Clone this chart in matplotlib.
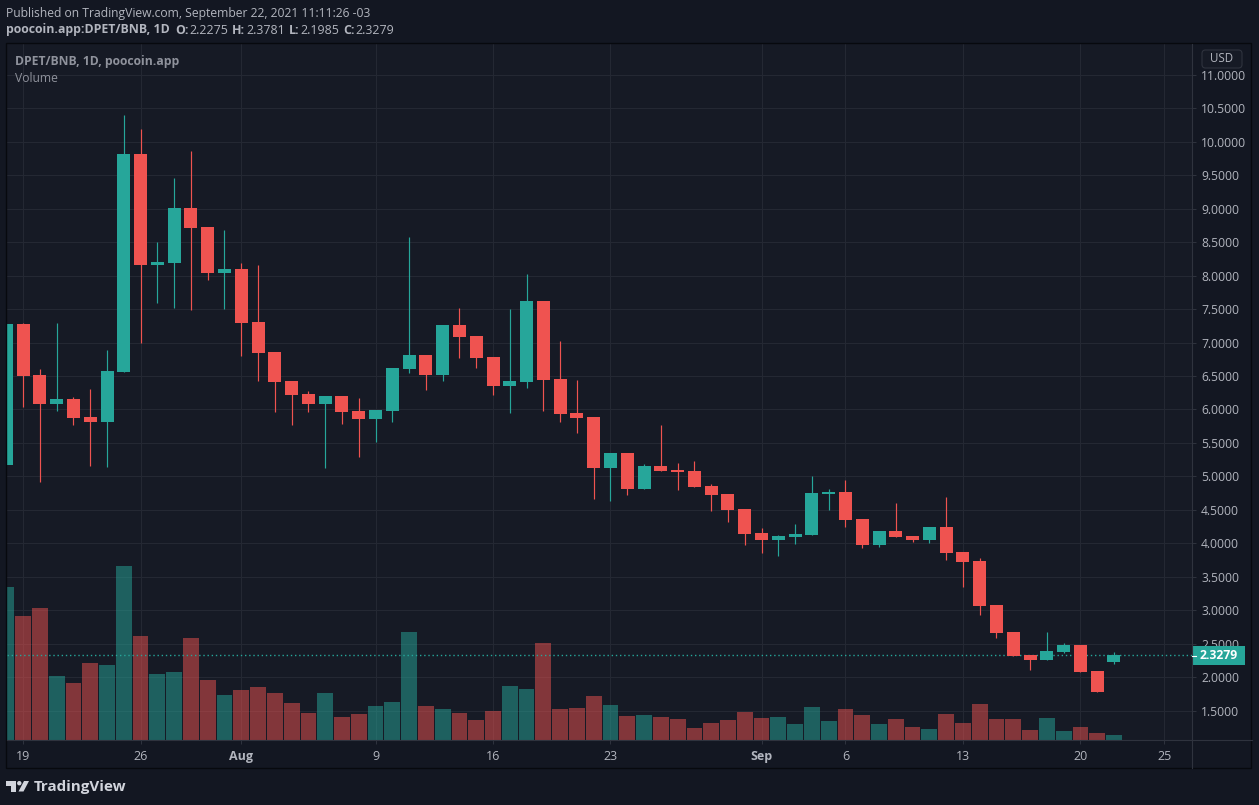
import numpy as np
import matplotlib
matplotlib.use("Agg")
import matplotlib.pyplot as plt
from matplotlib.patches import Circle, FancyBboxPatch, Polygon, Rectangle

plt.rcParams["font.family"] = ["Open Sans", "DejaVu Sans"]

W, H = 1259, 805
BG = "#131722"
PANE = "#161a25"
GRID = "#242833"
AXIS = "#2f333e"
TEXT = "#b2b5be"
GREEN = "#26a69a"
RED = "#ef5350"

# day index 0 = Jul 19, -1 is the half hidden candle at the left edge
days = np.arange(-1, 66)

opens = [5.17, 7.28, 6.516, 6.082, 6.157, 5.888, 5.813, 6.56, 9.819, 8.16, 8.19,
         9.012, 8.728, 8.04, 8.10, 7.308, 6.859, 6.426, 6.232, 6.082, 6.202, 5.977,
         5.858, 5.977, 6.605, 6.815, 6.516, 7.263, 7.099, 6.785, 6.351, 6.411, 7.622,
         6.456, 5.947, 5.888, 5.125, 5.35, 4.811, 5.155, 5.095, 5.08, 4.856, 4.737,
         4.512, 4.154, 4.05, 4.094, 4.124, 4.737, 4.766, 4.363, 3.974, 4.183, 4.109,
         4.05, 4.243, 3.87, 3.735, 3.077, 2.674, 2.33, 2.255, 2.375, 2.48, 2.091, 2.2275]
highs = [5.17, 7.29, 6.605, 7.293, 6.187, 6.306, 6.889, 10.40, 10.193, 8.504, 9.46,
         9.864, 8.728, 8.683, 8.19, 8.16, 6.859, 6.426, 6.276, 6.202, 6.202, 6.172,
         5.992, 6.62, 8.578, 6.815, 7.263, 7.517, 7.099, 6.785, 7.502, 8.025, 7.622,
         7.024, 6.441, 5.888, 5.35, 5.35, 5.185, 5.768, 5.20, 5.23, 4.886, 4.737,
         4.512, 4.228, 4.124, 4.288, 5.006, 4.811, 4.946, 4.363, 4.183, 4.602, 4.109,
         4.243, 4.692, 3.87, 3.78, 3.077, 2.674, 2.33, 2.674, 2.51, 2.48, 2.091, 2.3781]
lows = [5.17, 6.04, 4.92, 5.98, 5.768, 5.155, 5.14, 6.56, 7.0, 7.59, 7.517,
        7.487, 7.936, 7.502, 6.80, 6.426, 5.962, 5.768, 5.962, 5.125, 5.783, 5.29,
        5.514, 5.813, 6.545, 6.291, 6.426, 6.77, 6.62, 6.217, 5.947, 6.321, 5.977,
        5.813, 5.649, 4.662, 4.632, 4.722, 4.811, 5.08, 4.796, 4.841, 4.483, 4.318,
        3.974, 3.86, 3.81, 3.99, 4.124, 4.498, 4.243, 3.93, 3.944, 4.094, 4.02,
        4.0, 3.75, 3.346, 2.928, 2.584, 2.315, 2.106, 2.255, 2.36, 2.076, 1.777, 2.1985]
closes = [7.278, 6.50, 6.082, 6.157, 5.873, 5.813, 6.575, 9.819, 8.16, 8.205, 9.012,
          8.713, 8.04, 8.105, 7.293, 6.844, 6.411, 6.217, 6.082, 6.202, 5.962, 5.858,
          5.992, 6.62, 6.815, 6.516, 7.263, 7.084, 6.77, 6.351, 6.426, 7.622, 6.441,
          5.932, 5.873, 5.125, 5.35, 4.811, 5.155, 5.08, 5.065, 4.841, 4.722, 4.498,
          4.139, 4.05, 4.109, 4.139, 4.752, 4.767, 4.348, 3.974, 4.183, 4.094, 4.05,
          4.243, 3.855, 3.72, 3.062, 2.659, 2.315, 2.255, 2.39, 2.48, 2.076, 1.777, 2.3279]

# volume read as bar height in pixels, the real scale is not on the chart
volumes = [153, 124, 132, 64, 57, 77, 75, 174, 104, 66, 68, 102, 60, 45, 50, 53, 47,
           37, 27, 47, 23, 26, 34, 38, 108, 34, 31, 27, 20, 29, 54, 51, 97, 31, 32,
           44, 35, 24, 25, 23, 21, 12, 17, 20, 28, 22, 23, 16, 33, 19, 31, 25, 16,
           21, 13, 11, 26, 17, 36, 21, 21, 10, 22, 9, 13, 7, 5]

price_ticks = np.arange(1.5, 11.5, 0.5)
time_ticks = [0, 7, 13, 21, 28, 35, 44, 49, 56, 63, 68]
time_labels = ["19", "26", "Aug", "9", "16", "23", "Sep", "6", "13", "20", "25"]
last_price = closes[-1]

fig = plt.figure(figsize=(W / 100, H / 100), dpi=100, facecolor=BG)

# price pane, placed by pixels
left, right, top, bottom = 7, 1192, 44, 739.5
ax = fig.add_axes([left / W, 1 - bottom / H, (right - left) / W, (bottom - top) / H],
                  facecolor=PANE)
ax.set_xlim(-0.96, 69.65)
ax.set_ylim(1.067, 11.463)

for s in ax.spines.values():
    s.set_visible(False)

ax.set_yticks(price_ticks)
ax.set_yticklabels([f"{p:.4f}" for p in price_ticks])
ax.set_xticks(time_ticks)
ax.set_xticklabels(time_labels)
for lab in ax.get_xticklabels():
    if lab.get_text() in ("Aug", "Sep"):
        lab.set_fontweight("bold")
ax.tick_params(axis="y", left=False, labelleft=False, right=True, labelright=True,
               length=3, width=0.7, color=AXIS, labelcolor=TEXT, labelsize=8.7, pad=3.5)
ax.tick_params(axis="x", length=3, width=0.7, color=AXIS, labelcolor=TEXT,
               labelsize=9, pad=4.5)
ax.grid(True, color=GRID, linewidth=0.75, zorder=0.5)
ax.set_axisbelow(True)

colors = [GREEN if c >= o else RED for o, c in zip(opens, closes)]

# volume bars, heights as a share of the pane height
ax.bar(days, np.array(volumes) / (bottom - top), width=0.94, color=colors, alpha=0.5,
       transform=ax.get_xaxis_transform(), zorder=1, linewidth=0)

ax.axhline(last_price, color=GREEN, linewidth=1.0, linestyle=(0, (1, 2)), zorder=2)

# candles
ax.vlines(days, lows, highs, colors=colors, linewidth=0.85, zorder=3)
ax.bar(days, np.abs(np.array(closes) - np.array(opens)),
       bottom=np.minimum(opens, closes), width=0.775, color=colors, linewidth=0, zorder=4)

# overlay in pixel coordinates for frame, header and the small widgets
ov = fig.add_axes([0, 0, 1, 1], facecolor="none")
ov.set_xlim(0, W)
ov.set_ylim(H, 0)
ov.axis("off")

ov.plot([right, right], [top, 768], color=AXIS, linewidth=0.8)
ov.plot([left, 1252], [bottom, bottom], color=AXIS, linewidth=0.8)
ov.add_patch(Rectangle((left - 0.5, top - 0.5), 1252 - left, 768 - top, facecolor="none",
                       edgecolor="#07090e", linewidth=1.0))

# header
ov.text(6, 13, "Published on TradingView.com, September 22, 2021 11:11:26 -03",
        color=TEXT, fontsize=8.77, va="center")
ov.text(6, 30, "poocoin.app:DPET/BNB, 1D", color=TEXT, fontsize=8.9, va="center",
        fontweight="bold")
ohlc_keys = ["O:", "H:", "L:", "C:"]
ohlc_vals = ["2.2275", "2.3781", "2.1985", "2.3279"]
key_x = [175, 232, 289, 343]
val_x = [189, 246, 300, 355]
for k, v, kx, vx in zip(ohlc_keys, ohlc_vals, key_x, val_x):
    ov.text(kx, 30, k, color=TEXT, fontsize=8.9, va="center", fontweight="bold")
    ov.text(vx, 30, v, color=TEXT, fontsize=8.9, va="center")

# pane legend
ov.text(15, 61, "DPET/BNB, 1D, poocoin.app", color="#8f929c", fontsize=8.75, va="center",
        fontweight="bold")
ov.text(15, 78, "Volume", color="#8f929c", fontsize=8.7, va="center")

# USD button
ov.add_patch(FancyBboxPatch((1202, 50), 40, 18, boxstyle="round,pad=0,rounding_size=3.5",
                            facecolor=PANE, edgecolor=AXIS, linewidth=0.8))
ov.text(1222, 59, "USD", color=TEXT, fontsize=8.3, ha="center", va="center")

# last price tag, it hides part of the 2.5000 label as in the source chart
ov.add_patch(Rectangle((right, 646), 53, 19, facecolor=GREEN, edgecolor="none"))
ov.plot([right, right + 4], [655.5, 655.5], color="white", linewidth=0.8)
ov.text(1219, 655.5, f"{last_price:.4f}", color="white", fontsize=8.7, ha="center",
        va="center", fontweight="bold")

# TradingView logo
logo = "#d1d4dc"
ov.add_patch(Polygon([(6, 781), (16, 781), (16, 791.5), (11.5, 791.5), (11.5, 785.5),
                      (6, 785.5)], facecolor=logo, edgecolor="none"))
ov.add_patch(Circle((19.3, 783.2), 2.2, facecolor=logo, edgecolor="none"))
ov.add_patch(Polygon([(24, 781), (29, 781), (23.5, 791.5), (18.5, 791.5)], facecolor=logo,
                     edgecolor="none"))
ov.text(34, 786.5, "TradingView", color=logo, fontsize=10.9, va="center",
        fontweight="bold")

fig.savefig("out.png", dpi=100, facecolor=fig.get_facecolor())
